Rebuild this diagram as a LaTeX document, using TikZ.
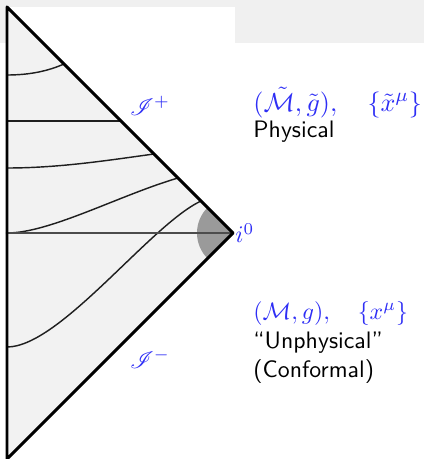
\documentclass[tikz,border=0pt]{standalone}
\usepackage{amsmath,amssymb,mathrsfs}
\usepackage{xcolor}
\usepackage{tikz}
\usetikzlibrary{calc}
\definecolor{bandgray}{HTML}{F0F0F0}
\definecolor{regiongray}{HTML}{F2F2F2}
\definecolor{cornergray}{HTML}{9A9A9A}
\definecolor{labelblue}{HTML}{2E2EF5}
\definecolor{ink}{HTML}{1F1F1F}
\tikzset{
    every picture/.style={line cap=round,line join=round},
    boundary/.style={draw=black,line width=1.25pt},
    slice/.style={draw=ink,line width=0.6pt},
    axisline/.style={draw=black!70,line width=1.2pt},
    scrilabel/.style={text=labelblue,inner sep=0pt,font=\normalsize},
    desclabel/.style={inner sep=0pt,anchor=base west,align=left,font=\sffamily}
}
\begin{document}
\begin{tikzpicture}[x=0.42pt,y=-0.42pt]
  \useasboundingbox (0,0) rectangle (424,459);
  % slide background
  \fill[bandgray] (0,0) rectangle (424,43);
  \fill[white] (7,7) rectangle (235,43);
  \coordinate (apex) at (7,7);
  \coordinate (izero) at (233,233);
  \coordinate (base) at (7,459);
  \fill[regiongray] (apex) -- (izero) -- (base) -- cycle;
  \begin{scope}
    \clip (apex) -- (izero) -- (base) -- cycle;
    \fill[cornergray] (izero) circle[radius=36];
  \end{scope}
  % slices
  \draw[slice] (7,75) .. controls (30,75) and (48,71) .. (64,64);
  \draw[slice] (7,121) -- (121,121);
  \draw[slice] (7,168) .. controls (60,168) and (110,160) .. (154,154);
  \draw[slice] (7,233) .. controls (50,233) and (120,195) .. (178,178);
  \draw[slice] (7,347) .. controls (60,347) and (150,225) .. (201,201);
  \draw[axisline] (7,233) -- (izero);
  \draw[boundary] (base) -- (apex) -- (izero) -- cycle;
  \node[scrilabel] (scriplus) at (150,106) {$\mathscr{I}^+$};
  \node[scrilabel] (scriminus) at (150,359) {$\mathscr{I}^-$};
  \node[scrilabel,anchor=west,xshift=0.8pt] (izerolabel) at (izero) {$i^0$};
  \node[desclabel,text=labelblue,font=\fontsize{10.95}{13}\selectfont] (physmath) at (253,111)
    {$(\tilde{\mathcal{M}},\tilde{g}),\quad\{\tilde{x}^\mu\}$};
  \node[desclabel] (phystext) at (253,137) {Physical};
  \node[desclabel,text=labelblue] (confmath) at (253,319)
    {$(\mathcal{M},g),\quad\{x^\mu\}$};
  \node[desclabel] (conftext) at (253,377) {``Unphysical''\\(Conformal)};
\end{tikzpicture}
\end{document}
